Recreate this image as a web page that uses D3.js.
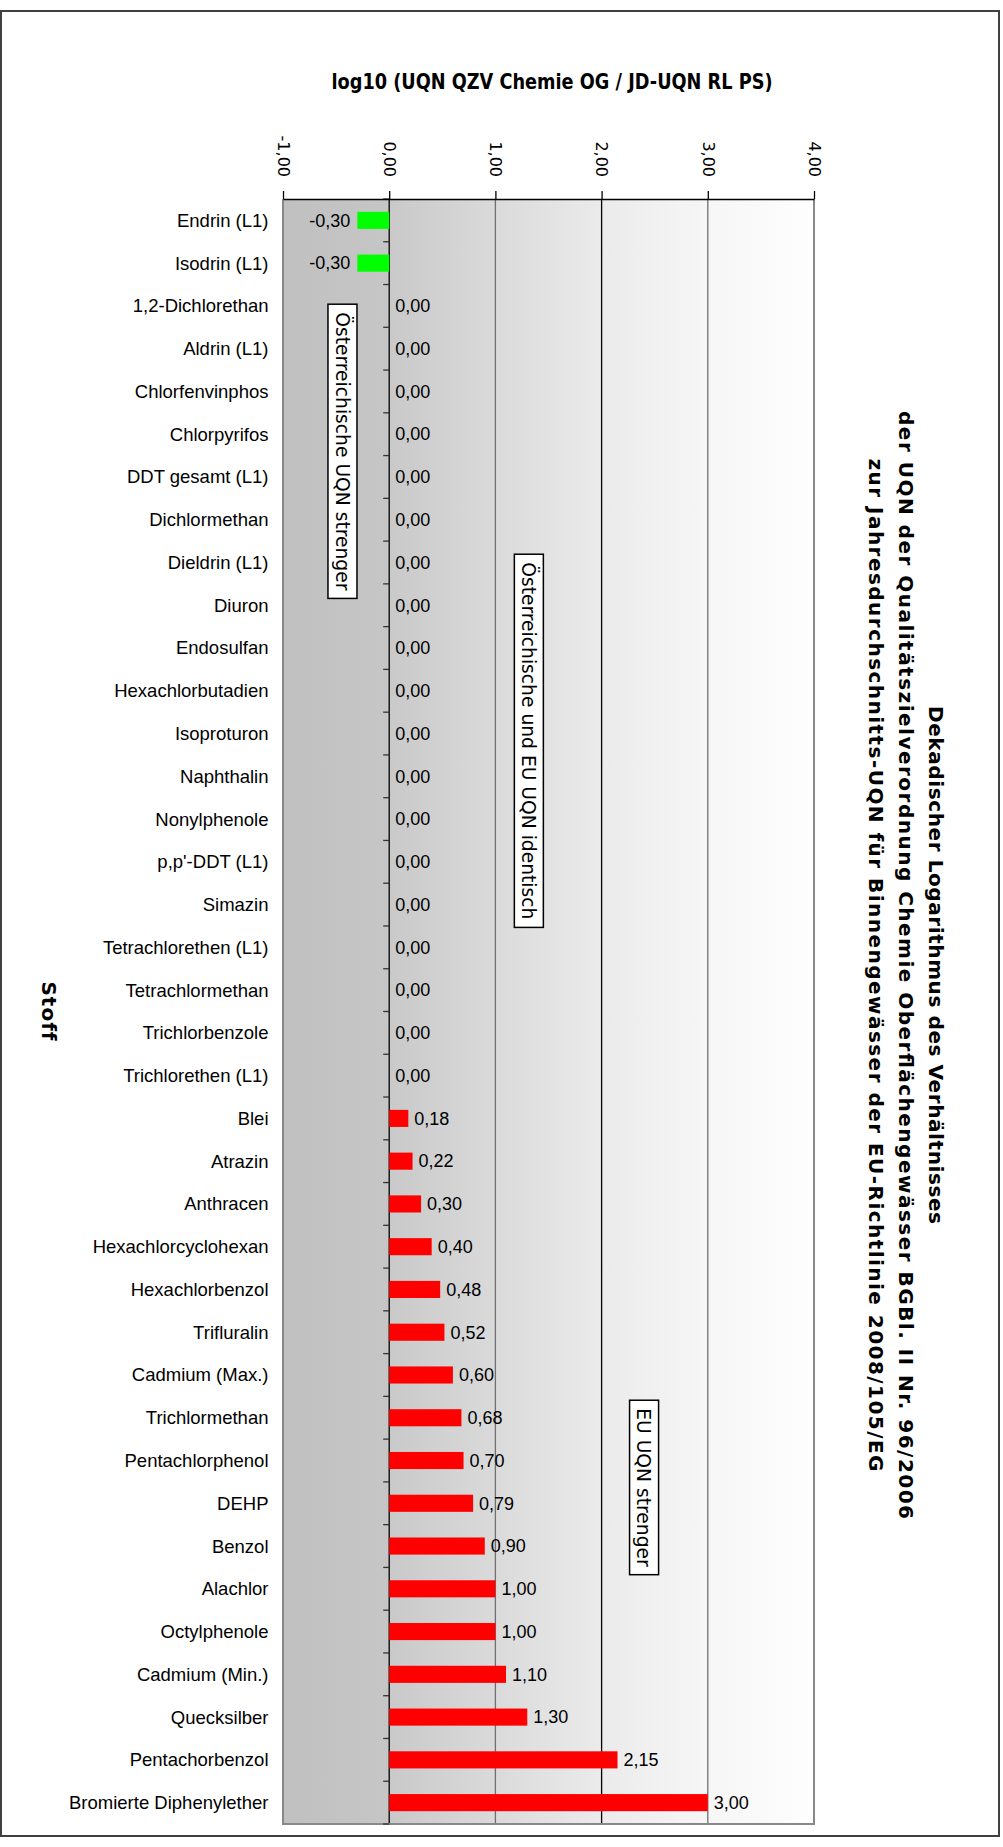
<!DOCTYPE html>
<html>
<head>
<meta charset="utf-8">
<title>log10 UQN QZV Chemie OG / JD-UQN RL PS</title>
<script src="https://cdnjs.cloudflare.com/ajax/libs/d3/7.8.5/d3.min.js"></script>
<style>
  body { margin: 0; background: #fff; }
  .cat { font-family: 'Liberation Sans', Arial, sans-serif; font-size: 18.5px; }
  .val { font-family: 'Liberation Sans', Arial, sans-serif; font-size: 18px; }
  .tick text { font-family: 'DejaVu Sans', Verdana, sans-serif; font-size: 16px; fill: #000; }
  .note { font-family: 'DejaVu Sans', Verdana, sans-serif; font-size: 18.7px; }
  .heading { font-family: 'DejaVu Sans', Verdana, sans-serif; font-weight: bold; font-size: 20px; }
  .title { font-family: 'DejaVu Sans Condensed', 'DejaVu Sans', sans-serif; font-weight: bold; font-size: 22px; }
</style>
</head>
<body>
<div id="chart"></div>
<script>
// substances, top to bottom
var substances = [
  'Endrin (L1)', 'Isodrin (L1)', '1,2-Dichlorethan', 'Aldrin (L1)', 'Chlorfenvinphos',
  'Chlorpyrifos', 'DDT gesamt (L1)', 'Dichlormethan', 'Dieldrin (L1)', 'Diuron',
  'Endosulfan', 'Hexachlorbutadien', 'Isoproturon', 'Naphthalin', 'Nonylphenole',
  'p,p\'-DDT (L1)', 'Simazin', 'Tetrachlorethen (L1)', 'Tetrachlormethan', 'Trichlorbenzole',
  'Trichlorethen (L1)', 'Blei', 'Atrazin', 'Anthracen', 'Hexachlorcyclohexan',
  'Hexachlorbenzol', 'Trifluralin', 'Cadmium (Max.)', 'Trichlormethan', 'Pentachlorphenol',
  'DEHP', 'Benzol', 'Alachlor', 'Octylphenole', 'Cadmium (Min.)',
  'Quecksilber', 'Pentachorbenzol', 'Bromierte Diphenylether'
];
// log10 ratio, same order
var ratios = [
  -0.30, -0.30, 0, 0, 0,
  0, 0, 0, 0, 0,
  0, 0, 0, 0, 0,
  0, 0, 0, 0, 0,
  0, 0.18, 0.22, 0.30, 0.40,
  0.48, 0.52, 0.60, 0.68, 0.70,
  0.79, 0.90, 1.00, 1.00, 1.10,
  1.30, 2.15, 3.00
];
var tickValues = [-1, 0, 1, 2, 3, 4];
var notes = ['Österreichische UQN strenger', 'Österreichische und EU UQN identisch', 'EU UQN strenger'];
var title = 'log10 (UQN QZV Chemie OG / JD-UQN RL PS)';
var heading = [
  'Dekadischer Logarithmus des Verhältnisses',
  'der UQN der Qualitätszielverordnung Chemie Oberflächengewässer BGBl. II Nr. 96/2006',
  'zur Jahresdurchschnitts-UQN für Binnengewässer der EU-Richtlinie 2008/105/EG'
];
var axisTitle = 'Stoff';

var data = substances.map(function(s, i) { return {name: s, value: ratios[i]}; });

var W = 1003, H = 1847;
var plot = {left: 283, right: 814, top: 199, bottom: 1824};

// german number format, plain hyphen as minus
var de = d3.formatLocale({decimal: ',', thousands: '.', grouping: [3], currency: ['', ' €'], minus: '-'});
var fmt = de.format('.2f');

var svg = d3.select('#chart').append('svg')
  .attr('width', W).attr('height', H);

// outer frame
svg.append('rect')
  .attr('x', 1).attr('y', 11).attr('width', 998).attr('height', 1825)
  .attr('fill', 'none').attr('stroke', '#404040').attr('stroke-width', 2);

var x = d3.scaleLinear().domain([-1, 4]).range([plot.left, plot.right]);
var y = d3.scaleBand().domain(substances).range([plot.top, plot.bottom])
  .paddingInner(0.6).paddingOuter(0.3);

// background gradient
var grad = svg.append('defs').append('linearGradient')
  .attr('id', 'bg').attr('x1', '0%').attr('x2', '100%').attr('y1', '0%').attr('y2', '0%');
[['0%', '#c0c0c0'], ['19.9%', '#c6c6c6'], ['20%', '#c9c9c9'], ['40%', '#dadada'],
 ['60%', '#ebebeb'], ['80%', '#f6f6f6'], ['100%', '#fefefe']].forEach(function(s) {
  grad.append('stop').attr('offset', s[0]).attr('stop-color', s[1]);
});

svg.append('rect')
  .attr('x', plot.left).attr('y', plot.top)
  .attr('width', plot.right - plot.left).attr('height', plot.bottom - plot.top)
  .attr('fill', 'url(#bg)');

// vertical grid lines
svg.append('g').selectAll('line')
  .data([0, 1, 2, 3])
  .join('line')
  .attr('x1', function(d) { return x(d); }).attr('x2', function(d) { return x(d); })
  .attr('y1', plot.top).attr('y2', plot.bottom)
  .attr('stroke', function(d) { return d % 2 === 0 ? '#000' : '#707070'; })
  .attr('stroke-width', 1.3);

// plot border (left, bottom, right)
svg.append('path')
  .attr('d', 'M' + plot.left + ',' + plot.top + 'V' + plot.bottom + 'H' + plot.right + 'V' + plot.top)
  .attr('fill', 'none').attr('stroke', '#888').attr('stroke-width', 2);

// category ticks on zero line
var step = y.step();
svg.append('g').selectAll('line')
  .data(d3.range(substances.length + 1))
  .join('line')
  .attr('x1', x(0) - 6).attr('x2', x(0))
  .attr('y1', function(i) { return plot.top + i * step; })
  .attr('y2', function(i) { return plot.top + i * step; })
  .attr('stroke', '#333').attr('stroke-width', 1.3);

// bars
svg.append('g').selectAll('rect')
  .data(data.filter(function(d) { return d.value !== 0; }))
  .join('rect')
  .attr('x', function(d) { return x(Math.min(0, d.value)); })
  .attr('y', function(d) { return y(d.name); })
  .attr('width', function(d) { return Math.abs(x(d.value) - x(0)); })
  .attr('height', y.bandwidth())
  .attr('fill', function(d) { return d.value < 0 ? '#00ff00' : '#ff0000'; });

// value labels
svg.append('g').selectAll('text')
  .data(data)
  .join('text')
  .attr('class', 'val')
  .attr('x', function(d) { return d.value < 0 ? x(d.value) - 7 : x(d.value) + 6; })
  .attr('y', function(d) { return y(d.name) + y.bandwidth() / 2; })
  .attr('dy', '0.35em')
  .attr('text-anchor', function(d) { return d.value < 0 ? 'end' : 'start'; })
  .text(function(d) { return fmt(d.value); });

// category labels
svg.append('g').selectAll('text')
  .data(data)
  .join('text')
  .attr('class', 'cat')
  .attr('x', 268.5)
  .attr('y', function(d) { return y(d.name) + y.bandwidth() / 2; })
  .attr('dy', '0.35em')
  .attr('text-anchor', 'end')
  .text(function(d) { return d.name; });

// top value axis, labels turned 90deg
var axis = svg.append('g')
  .attr('transform', 'translate(0,' + plot.top + ')')
  .call(d3.axisTop(x).tickValues(tickValues).tickSize(8).tickSizeOuter(0).tickFormat(fmt));
axis.select('.domain').attr('stroke', '#000').attr('stroke-width', 1.5);
axis.selectAll('.tick line').attr('stroke', '#000').attr('stroke-width', 1.3);
axis.selectAll('.tick text')
  .attr('transform', 'rotate(90)')
  .attr('x', -22).attr('y', 0).attr('dy', '0.36em')
  .attr('text-anchor', 'end');

// note boxes (x in log units, row = band index of the box centre)
var boxes = [
  {text: notes[0], at: -0.44, row: 5.9},
  {text: notes[1], at: 1.315, row: 12.67},
  {text: notes[2], at: 2.40, row: 30.13}
];
boxes.forEach(function(b) {
  var cx = x(b.at), cy = plot.top + b.row * step;
  var g = svg.append('g').attr('transform', 'translate(' + cx + ',' + cy + ') rotate(90)');
  var r = g.append('rect');
  var t = g.append('text').attr('class', 'note')
    .attr('text-anchor', 'middle').attr('dy', '0.36em').text(b.text);
  var len = t.node().getComputedTextLength() + 16;
  r.attr('x', -len / 2).attr('y', -14.5).attr('width', len).attr('height', 29)
    .attr('fill', '#fff').attr('stroke', '#000').attr('stroke-width', 1.5);
});

// chart title
svg.append('text')
  .attr('class', 'title')
  .attr('x', 552).attr('y', 89)
  .attr('text-anchor', 'middle')
  .attr('textLength', 441).attr('lengthAdjust', 'spacingAndGlyphs')
  .text(title);

// heading on the right, reading downwards (wide, Verdana-like spacing)
var headLen = [518, 1108, 1013];
svg.append('g').selectAll('text')
  .data(heading)
  .join('text')
  .attr('class', 'heading')
  .attr('transform', function(d, i) { return 'translate(' + (936 - i * 30) + ',965) rotate(90)'; })
  .attr('text-anchor', 'middle')
  .attr('dy', '0.36em')
  .attr('textLength', function(d, i) { return headLen[i]; })
  .attr('lengthAdjust', 'spacing')
  .text(function(d) { return d; });

svg.append('text')
  .attr('class', 'heading')
  .style('font-size', '20px')
  .style('letter-spacing', '1px')
  .attr('transform', 'translate(49,' + (plot.top + plot.bottom) / 2 + ') rotate(90)')
  .attr('text-anchor', 'middle')
  .attr('dy', '0.36em')
  .text(axisTitle);
</script>
</body>
</html>
